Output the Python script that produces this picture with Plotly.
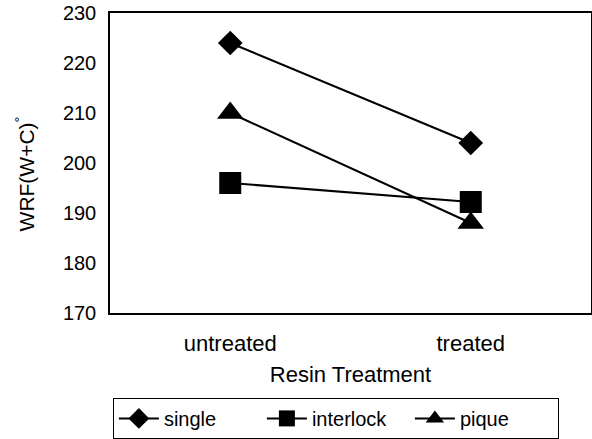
import plotly.graph_objects as go

categories = ["untreated", "treated"]
single = [224, 204]
interlock = [196, 192.2]
pique = [210, 188]
y_ticks = [170, 180, 190, 200, 210, 220, 230]

FONT = "Liberation Sans, Arial, sans-serif"

fig = go.Figure()
series = [
    ("single", single, "diamond", 19),
    ("interlock", interlock, "square", 22),
    ("pique", pique, "triangle-up", 23),
]
for name, vals, sym, sz in series:
    fig.add_trace(go.Scatter(
        x=categories, y=vals, name=name, mode="lines+markers",
        line=dict(color="black", width=2),
        marker=dict(symbol=sym, size=sz, color="black"),
    ))

fig.update_layout(
    width=592, height=439,
    margin=dict(l=110, r=1, t=13, b=126, autoexpand=False),
    paper_bgcolor="white", plot_bgcolor="white",
    font=dict(family=FONT, size=21, color="black"),
    showlegend=True,
    legend=dict(
        orientation="h", x=0.006, xanchor="left", y=-0.283, yanchor="top",
        bordercolor="black", borderwidth=1, font=dict(size=20),
        traceorder="normal", itemwidth=40,
        entrywidth=93, entrywidthmode="pixels",
    ),
    annotations=[dict(
        text="WRF(W+C)<sup>°</sup>", textangle=-90,
        xref="paper", yref="paper", x=-0.176, y=0.463,
        xanchor="center", yanchor="middle", showarrow=False,
        font=dict(size=21),
    )],
)
fig.update_xaxes(
    type="category", range=[-0.5, 1.5],
    showline=True, linecolor="black", linewidth=1.5, mirror=True,
    showgrid=False, ticks="", ticklabelstandoff=10,
    tickfont=dict(size=22),
    title=dict(text="Resin Treatment", font=dict(size=22), standoff=11),
)
fig.update_yaxes(
    range=[170, 230], tickvals=y_ticks,
    showline=True, linecolor="black", linewidth=1.5, mirror=True,
    showgrid=False, zeroline=False, ticks="", ticklabelstandoff=8,
    tickfont=dict(size=20),
)

fig.write_html("out.html")
